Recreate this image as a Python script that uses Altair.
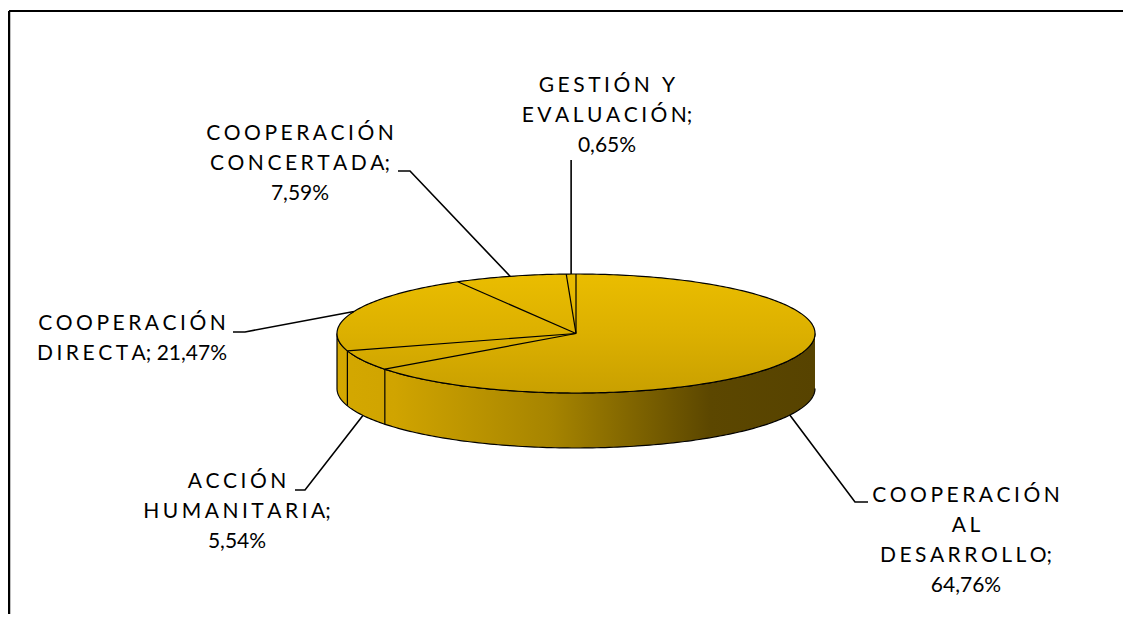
import numpy as np
import pandas as pd
import altair as alt

# ---------------- data ----------------
categories = ["COOPERACIÓN AL DESARROLLO", "ACCIÓN HUMANITARIA", "COOPERACIÓN DIRECTA",
              "COOPERACIÓN CONCERTADA", "GESTIÓN Y EVALUACIÓN"]
percentages = [64.76, 5.54, 21.47, 7.59, 0.65]
label_names = [["COOPERACIÓN", "AL", "DESARROLLO;"],
               ["ACCIÓN", "HUMANITARIA;"],
               ["COOPERACIÓN", "DIRECTA;"],
               ["COOPERACIÓN", "CONCERTADA;"],
               ["GESTIÓN Y", "EVALUACIÓN;"]]

# ---------------- layout (pixels inside the chart) ----------------
W, H = 1115, 606
CX, CY, RX, RY, DEPTH = 568, 325.5, 239, 59.5, 55
label_anchor = [(958, 494), (229, 480), (124, 322), (292, 132), (599, 84)]
leader_elbow = [(847, 494), (297, 482), (237, 324), (402, 163), (None, 152)]
leader_end = [(860, 494), (287, 482), (225, 324), (390, 163), (None, 152)]
FONT = "Lato"
TRACK = "\u2006"   # six-per-em space between letters (the original face is wide)


def track(s):
    out = s[0]
    for i in range(1, len(s)):
        a, b = s[i - 1], s[i]
        if a.isalpha() and b.isalpha():
            out += TRACK
        elif b == " " and a.isalpha():
            out += TRACK
        elif a == " " and b.isalpha() and i >= 2 and s[i - 2].isalpha():
            out += TRACK
        out += b
    return out


def ex(t):
    return CX + RX * np.sin(np.radians(t))


def ey(t):
    return CY - RY * np.cos(np.radians(t))


cum = np.cumsum([0] + percentages)
starts = cum[:-1] / cum[-1] * 360
ends = cum[1:] / cum[-1] * 360
mids = (starts + ends) / 2

th = np.arange(0, 361, 1.0)
top_df = pd.DataFrame({"x": ex(th), "y": ey(th), "i": np.arange(len(th))})

tf = np.arange(90, 270.5, 1.0)
side_x = np.concatenate([ex(tf), ex(tf[::-1])])
side_y = np.concatenate([ey(tf), ey(tf[::-1]) + DEPTH])
side_df = pd.DataFrame({"x": side_x, "y": side_y, "i": np.arange(len(side_x))})

vrows = []
for k, a in enumerate(starts):
    if 90 < a < 270:
        vrows.append({"id": k, "x": ex(a), "y": ey(a), "y2": ey(a) + DEPTH})
vert_df = pd.DataFrame(vrows)

rrows = []
for k, a in enumerate(starts):
    rrows.append({"id": k, "o": 0, "x": CX, "y": CY})
    rrows.append({"id": k, "o": 1, "x": ex(a), "y": ey(a)})
rad_df = pd.DataFrame(rrows)

lrows = []
for k, m in enumerate(mids):
    sx, sy = ex(m), ey(m)
    if 90 < m < 270:
        sy += DEPTH
    ex_, ey_ = leader_elbow[k]
    nx, ny = leader_end[k]
    ex_ = sx if ex_ is None else ex_
    nx = sx if nx is None else nx
    lrows += [{"id": k, "o": 0, "x": sx, "y": sy},
              {"id": k, "o": 1, "x": ex_, "y": ey_},
              {"id": k, "o": 2, "x": nx, "y": ny}]
lead_df = pd.DataFrame(lrows)

txt_rows = []
for k, p in enumerate(percentages):
    pct = f"{p:.2f}".replace(".", ",") + "%"
    lines = list(label_names[k])
    if k == 2:
        lines[-1] = lines[-1] + " " + pct
    else:
        lines.append(pct)
    txt_rows.append({"cat": categories[k], "x": label_anchor[k][0], "y": label_anchor[k][1],
                     "t": "\n".join(track(l) for l in lines)})
txt_df = pd.DataFrame(txt_rows)

xs = alt.Scale(domain=[0, W], nice=False, zero=False)
ys = alt.Scale(domain=[0, H], nice=False, zero=False, reverse=True)
X = alt.X("x:Q", scale=xs, axis=None)
Y = alt.Y("y:Q", scale=ys, axis=None)

side_grad = alt.LinearGradient(
    gradient="linear", x1=0, y1=0, x2=1, y2=0,
    stops=[alt.GradientStop(color="#d4a800", offset=0),
           alt.GradientStop(color="#d0a400", offset=0.12),
           alt.GradientStop(color="#a68400", offset=0.45),
           alt.GradientStop(color="#5c4700", offset=0.78),
           alt.GradientStop(color="#574300", offset=1)])
top_grad = alt.LinearGradient(
    gradient="linear", x1=0, y1=0, x2=0, y2=1,
    stops=[alt.GradientStop(color="#eabd00", offset=0),
           alt.GradientStop(color="#dcb000", offset=0.5),
           alt.GradientStop(color="#c9a000", offset=1)])

side = alt.Chart(side_df).mark_line(fill=side_grad, stroke="black", strokeWidth=1.2).encode(
    x=X, y=Y, order="i:Q")
verts = alt.Chart(vert_df).mark_rule(color="black", strokeWidth=1.2).encode(
    x=X, y=Y, y2="y2:Q")
top = alt.Chart(top_df).mark_line(fill=top_grad, stroke="black", strokeWidth=1.2).encode(
    x=X, y=Y, order="i:Q")
rads = alt.Chart(rad_df).mark_line(color="black", strokeWidth=1.2).encode(
    x=X, y=Y, order="o:Q", detail="id:N")
leads = alt.Chart(lead_df).mark_line(color="black", strokeWidth=1.6).encode(
    x=X, y=Y, order="o:Q", detail="id:N")
texts = alt.Chart(txt_df).mark_text(
    font=FONT, fontSize=21, color="black", align="center", baseline="alphabetic",
    lineBreak="\n", lineHeight=30).encode(x=X, y=Y, text="t:N")

frame_df = pd.DataFrame({"x": [1], "y": [3], "x2": [W], "y2": [H]})
frame_top = alt.Chart(frame_df).mark_rule(color="black", strokeWidth=2).encode(
    x=X, x2="x2:Q", y=Y)
frame_left = alt.Chart(frame_df).mark_rule(color="black", strokeWidth=2.5).encode(
    x=X, y=Y, y2="y2:Q")

chart = alt.layer(frame_top, frame_left, side, verts, top, rads, leads, texts).properties(
    width=W, height=H, padding=0, autosize=alt.AutoSizeParams(type="none")
).configure_view(stroke=None)

chart.save("out.html", embed_options={"renderer": "svg", "actions": False})
